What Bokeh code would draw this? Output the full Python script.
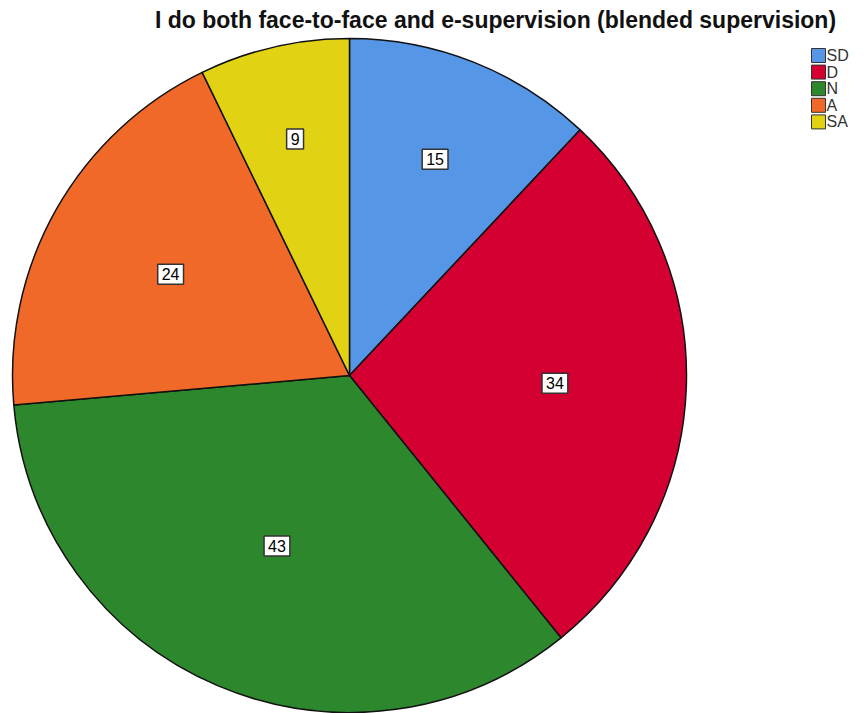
import math
from bokeh.plotting import figure
from bokeh.models import Range1d, ColumnDataSource
from bokeh.core.properties import value
from bokeh.embed import file_html
from bokeh.resources import INLINE

categories = ["SD", "D", "N", "A", "SA"]
counts = [15, 34, 43, 24, 9]
colors = ["#5596E6", "#D40032", "#2D872D", "#F06928", "#E1D214"]
label_radius_frac = [0.69, 0.61, 0.55, 0.61, 0.72]
title_text = "I do both face-to-face and e-supervision (blended supervision)"

W, H = 866, 713
cx, cy, R = 349, H - 375, 337

p = figure(width=W, height=H, output_backend="svg", toolbar_location=None,
           x_range=Range1d(0, W), y_range=Range1d(0, H),
           x_axis_location=None, y_axis_location=None, min_border=0)
p.grid.visible = False
p.outline_line_color = None
p.background_fill_color = "white"

total = sum(counts)
starts, ends, lx, ly = [], [], [], []
a = math.pi / 2
for c, f in zip(counts, label_radius_frac):
    sweep = 2 * math.pi * c / total
    starts.append(a)
    ends.append(a - sweep)
    mid = a - sweep / 2
    lx.append(cx + f * R * math.cos(mid))
    ly.append(cy + f * R * math.sin(mid))
    a -= sweep

src = ColumnDataSource(dict(start=starts, end=ends, color=colors,
                            lx=lx, ly=ly, txt=[str(c) for c in counts]))
p.wedge(x=cx, y=cy, radius=R, start_angle="start", end_angle="end",
        direction="clock", fill_color="color", line_color="#111111",
        line_width=1.5, source=src)

p.text(x="lx", y="ly", text="txt", source=src, text_align="center",
       text_baseline="middle", text_font=value("Liberation Sans"),
       text_font_size="16px", text_color="black",
       background_fill_color="white", border_line_color="#333333",
       border_line_width=1.5, padding=4)

p.text(x=[495], y=[H - 19], text=[title_text], text_align="center",
       text_baseline="middle", text_font=value("Liberation Sans"),
       text_font_style="bold", text_font_size="23px", text_color="#111111")

leg_y = [H - 55 - 16.6 * i for i in range(len(categories))]
p.rect(x=[818] * len(categories), y=leg_y, width=14, height=14,
       fill_color=colors, line_color="#333333", line_width=1)
p.text(x=[826] * len(categories), y=leg_y, text=categories,
       text_align="left", text_baseline="middle",
       text_font=value("Liberation Sans"), text_font_size="16px",
       text_color="#333333")

open("out.html", "w").write(file_html(p, INLINE))
